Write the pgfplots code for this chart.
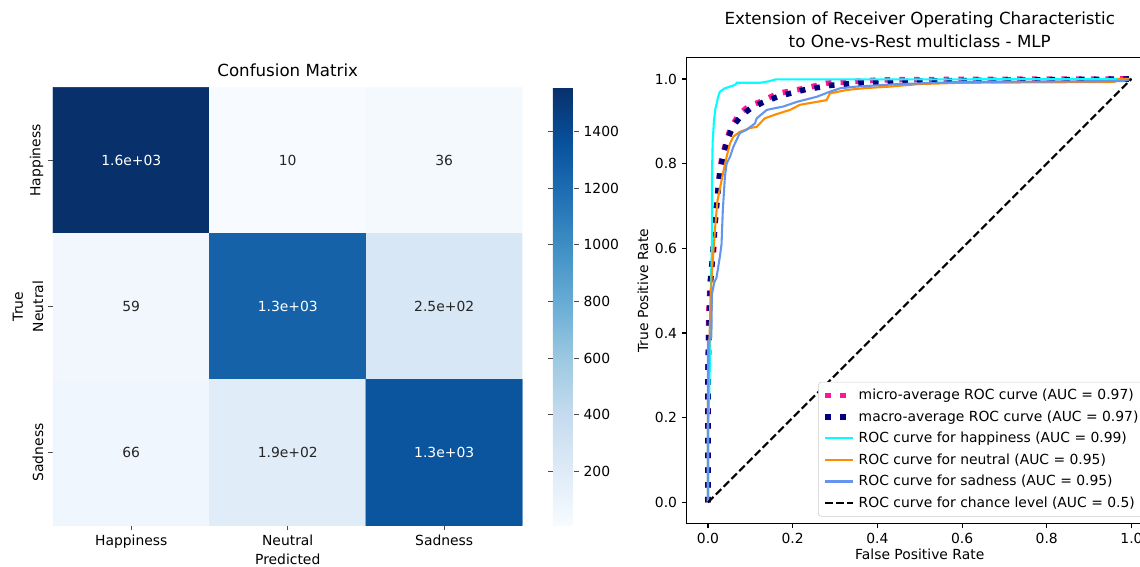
\documentclass[border=0pt]{standalone}
\usepackage{pgfplots}
\pgfplotsset{compat=1.18}
\usepackage{fontspec}
\setmainfont{DejaVu Sans}
\definecolor{mdeeppink}{HTML}{FF1493}
\definecolor{mnavy}{HTML}{000080}
\definecolor{maqua}{HTML}{00FFFF}
\definecolor{morange}{HTML}{FF8C00}
\definecolor{mcorn}{HTML}{6495ED}
\pgfplotsset{colormap={mplblues}{rgb255=(247,251,255) rgb255=(222,235,247) rgb255=(198,219,239) rgb255=(158,202,225) rgb255=(107,174,214) rgb255=(66,146,198) rgb255=(33,113,181) rgb255=(8,81,156) rgb255=(8,48,107)}}
\begin{document}
\begin{tikzpicture}
% ---------------- Confusion matrix ----------------
\begin{axis}[
  at={(38.16pt,29.16pt)}, anchor=south west,
  scale only axis, width=338pt, height=315.4pt,
  xmin=-0.5, xmax=2.5, ymin=-0.5, ymax=2.5, y dir=reverse,
  xtick={0,1,2}, ytick={0,1,2},
  xticklabels={Happiness,Neutral,Sadness},
  yticklabels={Happiness,Neutral,Sadness},
  yticklabel style={rotate=90, anchor=south},
  tick align=outside, tick pos=left, major tick length=3.5pt,
  tick style={black!70, line width=0.8pt},
  axis line style={draw=none},
  tick label style={font=\fontsize{10}{12}\selectfont},
  label style={font=\fontsize{10}{12}\selectfont},
  xlabel={Predicted}, ylabel={True},
  xlabel style={yshift=3pt},
  ylabel style={yshift=-2pt},
  title={Confusion Matrix},
  title style={font=\fontsize{12}{14}\selectfont, yshift=-2pt},
  colormap name=mplblues,
  point meta min=10, point meta max=1555,
  colorbar,
  colorbar style={
    at={(parent axis.north east)}, anchor=north west, xshift=13.4pt,
    width=15.1pt,
    ytick={200,400,...,1400},
    axis line style={draw=none},
    tick align=outside, major tick length=3.5pt,
    tick style={black!70, line width=0.8pt},
    yticklabel pos=right,
    yticklabel style={font=\fontsize{10}{12}\selectfont, /pgf/number format/1000 sep={}},
    /pgf/number format/assume math mode=true,
  },
]
\addplot[matrix plot*, mesh/cols=3, point meta=explicit] table[meta=c] {
x y c
0 0 1555
1 0 10
2 0 36
0 1 59
1 1 1260
2 1 250
0 2 66
1 2 190
2 2 1340
};
\addplot[only marks, mark=none, nodes near coords, point meta=explicit symbolic,
  nodes near coords style={anchor=center, text=white, font=\fontsize{10}{12}\selectfont}]
  table[meta=label] {
x y label
0 0 1.6e+03
1 1 1.3e+03
2 2 1.3e+03
};
\addplot[only marks, mark=none, nodes near coords, point meta=explicit symbolic,
  nodes near coords style={anchor=center, text=black!85, font=\fontsize{10}{12}\selectfont}]
  table[meta=label] {
x y label
1 0 10
2 0 36
0 1 59
2 1 2.5e+02
0 2 66
1 2 1.9e+02
};
\end{axis}
% ---------------- ROC ----------------
\begin{axis}[
  at={(494.5pt,30.6pt)}, anchor=south west,
  scale only axis, width=335.4pt, height=335.3pt,
  xmin=-0.05, xmax=1.05, ymin=-0.05, ymax=1.05,
  xtick={0,0.2,...,1.01}, ytick={0,0.2,...,1.01},
  tick label style={font=\fontsize{10}{12}\selectfont, /pgf/number format/.cd, fixed, fixed zerofill, precision=1, assume math mode=true},
  tick align=outside, tick pos=left, major tick length=3.5pt,
  tick style={black, line width=0.8pt},
  axis line style={black, line width=0.8pt},
  label style={font=\fontsize{10}{12}\selectfont},
  xlabel={False Positive Rate}, ylabel={True Positive Rate},
  xlabel style={yshift=3pt},
  ylabel style={yshift=-2pt},
  title={Extension of Receiver Operating Characteristic\\to One-vs-Rest multiclass - MLP},
  title style={align=center, font=\fontsize{12}{16.6}\selectfont, yshift=-2pt},
  legend style={at={(1,0)}, anchor=south east, xshift=-5pt, yshift=5pt,
    draw=black!20, rounded corners=2pt, font=\fontsize{10}{12}\selectfont,
    row sep=2.4pt, inner sep=3pt},
  legend cell align=left,
  legend image code/.code={\draw[#1] (0pt,0pt) -- (20pt,0pt);},
]
\addplot[mdeeppink, line width=4pt, dash pattern=on 4pt off 6.6pt] coordinates {
(0,0) (0,0.33) (0.002,0.45) (0.005,0.52) (0.009,0.56) (0.0126,0.58) (0.0165,0.66) (0.024,0.746) (0.032,0.809) (0.040,0.84) (0.052,0.88) (0.072,0.915) (0.095,0.935) (0.123,0.946) (0.166,0.966) (0.229,0.978) (0.28,0.99) (0.343,0.994) (0.41,0.998) (0.6,0.999) (1,1)
};
\addlegendentry{micro-average ROC curve (AUC = 0.97)}
\addplot[mnavy, line width=4pt, dash pattern=on 4pt off 6.6pt] coordinates {
(0,0) (0,0.30) (0.003,0.43) (0.006,0.52) (0.010,0.57) (0.015,0.64) (0.022,0.72) (0.028,0.78) (0.036,0.82) (0.047,0.86) (0.06,0.89) (0.08,0.915) (0.1,0.93) (0.13,0.945) (0.17,0.96) (0.23,0.975) (0.29,0.985) (0.35,0.99) (0.5,0.995) (1,1)
};
\addlegendentry{macro-average ROC curve (AUC = 0.97)}
\addplot[maqua, line width=1.5pt] coordinates {
(0,0) (0,0.18) (0.002,0.22) (0.004,0.30) (0.005,0.45) (0.007,0.52) (0.009,0.60) (0.009,0.75) (0.011,0.85) (0.014,0.90) (0.017,0.927) (0.024,0.958) (0.028,0.970) (0.040,0.978) (0.064,0.986) (0.068,0.991) (0.123,0.991) (0.146,0.995) (0.16,0.999) (0.5,0.999) (1,1)
};
\addlegendentry{ROC curve for happiness (AUC = 0.99)}
\addplot[morange, line width=1.5pt] coordinates {
(0,0) (0,0.25) (0.002,0.34) (0.005,0.43) (0.009,0.54) (0.017,0.65) (0.022,0.71) (0.030,0.75) (0.036,0.78) (0.044,0.816) (0.052,0.848) (0.060,0.864) (0.075,0.875) (0.099,0.884) (0.115,0.887) (0.134,0.907) (0.162,0.917) (0.194,0.927) (0.217,0.939) (0.28,0.95) (0.288,0.966) (0.328,0.974) (0.366,0.978) (0.43,0.982) (0.5,0.988) (0.6,0.991) (0.96,0.993) (0.97,1.0) (1,1)
};
\addlegendentry{ROC curve for neutral (AUC = 0.95)}
\addplot[mcorn, line width=1.5pt] coordinates {
(0,0) (0,0.38) (0.008,0.39) (0.009,0.49) (0.015,0.52) (0.020,0.53) (0.028,0.58) (0.032,0.61) (0.035,0.69) (0.040,0.77) (0.044,0.80) (0.052,0.816) (0.060,0.84) (0.075,0.872) (0.091,0.88) (0.111,0.895) (0.115,0.907) (0.139,0.927) (0.178,0.935) (0.21,0.946) (0.257,0.958) (0.288,0.97) (0.312,0.978) (0.351,0.982) (0.45,0.988) (0.6,0.993) (0.98,0.995) (1,1)
};
\addlegendentry{ROC curve for sadness (AUC = 0.95)}
\addplot[black, line width=1.5pt, dash pattern=on 5.55pt off 2.4pt] coordinates {(0,0) (1,1)};
\addlegendentry{ROC curve for chance level (AUC = 0.5)}
\end{axis}
\pgfresetboundingbox
\path[use as bounding box] (0,0) rectangle (820.8pt,407.52pt);
\end{tikzpicture}
\end{document}
